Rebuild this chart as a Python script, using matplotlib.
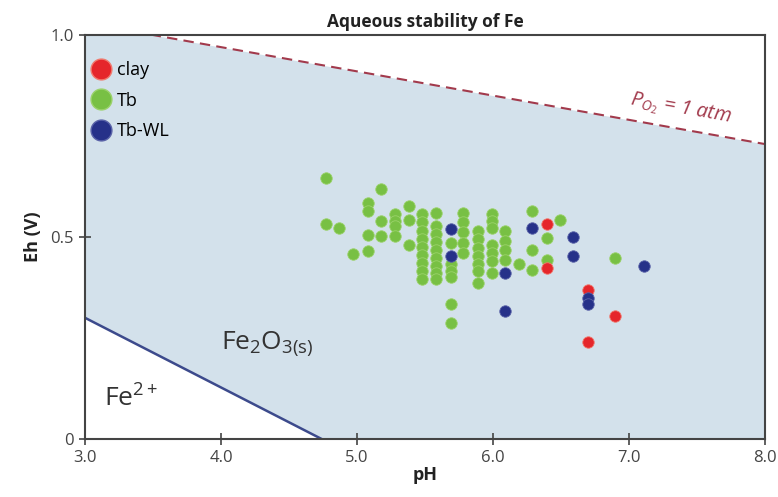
import numpy as np
import matplotlib
matplotlib.use("Agg")
import matplotlib.pyplot as plt
from matplotlib.lines import Line2D

plt.rcParams['font.family'] = ['Open Sans', 'DejaVu Sans']
plt.rcParams['mathtext.fontset'] = 'custom'
plt.rcParams['mathtext.rm'] = 'Open Sans'
plt.rcParams['mathtext.it'] = 'Open Sans:italic'
plt.rcParams['mathtext.bf'] = 'Open Sans:bold'

# ---- data ----
clay_ph = [6.40, 6.40, 6.70, 6.90, 6.70]
clay_eh = [0.531, 0.424, 0.368, 0.305, 0.241]

tbwl_ph = [5.69, 5.69, 6.09, 6.09, 6.29, 6.59, 6.59, 6.70, 6.70, 7.11]
tbwl_eh = [0.520, 0.452, 0.411, 0.316, 0.523, 0.500, 0.454, 0.349, 0.333, 0.428]

tb_ph = [4.77, 4.77, 4.87, 4.97,
         5.08, 5.08, 5.08, 5.08,
         5.18, 5.18, 5.18,
         5.28, 5.28, 5.28, 5.28,
         5.38, 5.38, 5.38,
         5.48, 5.48, 5.48, 5.48, 5.48, 5.48, 5.48, 5.48, 5.48,
         5.58, 5.58, 5.58, 5.58, 5.58, 5.58, 5.58, 5.58, 5.58,
         5.69, 5.69, 5.69, 5.69, 5.69, 5.69,
         5.78, 5.78, 5.78, 5.78, 5.78,
         5.89, 5.89, 5.89, 5.89, 5.89, 5.89, 5.89,
         5.99, 5.99, 5.99, 5.99, 5.99, 5.99, 5.99,
         6.09, 6.09, 6.09, 6.09,
         6.19,
         6.29, 6.29, 6.29,
         6.40, 6.40,
         6.49,
         6.90]
tb_eh = [0.647, 0.533, 0.523, 0.457,
         0.585, 0.565, 0.506, 0.465,
         0.618, 0.539, 0.502,
         0.556, 0.540, 0.527, 0.502,
         0.576, 0.543, 0.481,
         0.556, 0.536, 0.516, 0.496, 0.476, 0.456, 0.436, 0.416, 0.395,
         0.560, 0.527, 0.507, 0.487, 0.467, 0.447, 0.427, 0.410, 0.395,
         0.486, 0.432, 0.415, 0.400, 0.333, 0.287,
         0.560, 0.536, 0.512, 0.486, 0.461,
         0.514, 0.494, 0.474, 0.454, 0.434, 0.415, 0.386,
         0.556, 0.540, 0.523, 0.481, 0.460, 0.440, 0.411,
         0.514, 0.490, 0.467, 0.444,
         0.432,
         0.564, 0.469, 0.419,
         0.498, 0.444,
         0.542,
         0.448]

# stability field boundaries
fe_line_ph = [3.0, 4.74]
fe_line_eh = [0.30, 0.0]
o2_line_ph = [3.0, 8.0]
o2_line_eh = [1.03, 0.73]

x_ticks = [3.0, 4.0, 5.0, 6.0, 7.0, 8.0]
x_labels = ['3.0', '4.0', '5.0', '6.0', '7.0', '8.0']
y_ticks = [0.0, 0.5, 1.0]
y_labels = ['0', '0.5', '1.0']

# ---- figure ----
fig = plt.figure(figsize=(7.78, 4.97), dpi=100)
ax = fig.add_axes([85/778, 1-439/497, (765-85)/778, (439-35)/497])

xs = np.linspace(3.0, 8.0, 400)
lower = np.clip(np.interp(xs, fe_line_ph, fe_line_eh, right=0.0), 0, 1)
upper = np.clip(np.interp(xs, o2_line_ph, o2_line_eh), 0, 1)
ax.fill_between(xs, lower, upper, color='#d3e1eb', lw=0, zorder=0)

ax.plot(fe_line_ph, fe_line_eh, color='#3c4a8c', lw=1.8, zorder=1)
ax.plot(o2_line_ph, o2_line_eh, color='#a23a4c', lw=1.5, ls=(0, (5, 3)), zorder=1)

ms = 68
ax.scatter(tb_ph, tb_eh, s=ms, color='#78c044', edgecolors='#9ad26a', linewidths=0.6, zorder=3)
ax.scatter(clay_ph, clay_eh, s=ms, color='#e5262b', edgecolors='#f07a6e', linewidths=0.6, zorder=4)
ax.scatter(tbwl_ph, tbwl_eh, s=ms, color='#263189', edgecolors='#5a63a8', linewidths=0.6, zorder=5)

ax.set_xlim(3.0, 8.0)
ax.set_ylim(0.0, 1.0)
ax.set_xticks(x_ticks)
ax.set_xticklabels(x_labels)
ax.set_yticks(y_ticks)
ax.set_yticklabels(y_labels)
ax.tick_params(direction='inout', length=8, width=1.2, colors='#444444',
               labelsize=12, labelcolor='#444444', pad=4)
for sp in ax.spines.values():
    sp.set_color('#444444')
    sp.set_linewidth(1.5)

ax.set_xlabel('pH', fontsize=13, fontweight='bold', labelpad=0, color='#222222')
ax.set_ylabel('Eh (V)', fontsize=13, fontweight='bold', labelpad=6, color='#222222')
ax.set_title('Aqueous stability of Fe', fontsize=12.5, fontweight='bold', pad=6, color='#222222')

ax.text(4.0, 0.235, r'Fe$_{\mathrm{2}}$O$_{\mathrm{3(s)}}$', fontsize=19, color='#333333',
        va='center', ha='left')
ax.text(3.14, 0.10, r'Fe$^{\mathrm{2+}}$', fontsize=19, color='#333333', va='center', ha='left')
ax.text(7.38, 0.815, r'$P_{\mathit{O_2}}$ = 1 atm', fontsize=14.5, color='#a23a4c', style='italic',
        rotation=-10, ha='center', va='center')

handles = [
    Line2D([], [], ls='', marker='o', ms=15, color='#e5262b', mec='#f07a6e'),
    Line2D([], [], ls='', marker='o', ms=15, color='#78c044', mec='#9ad26a'),
    Line2D([], [], ls='', marker='o', ms=15, color='#263189', mec='#5a63a8'),
]
ax.legend(handles, ['clay', 'Tb', 'Tb-WL'], loc='upper left', frameon=False,
          bbox_to_anchor=(-0.022, 0.985),
          fontsize=13, labelspacing=0.7, handletextpad=0.3, borderaxespad=0.6,
          handlelength=1.2, borderpad=0.5)

fig.savefig('out.png', dpi=100)
